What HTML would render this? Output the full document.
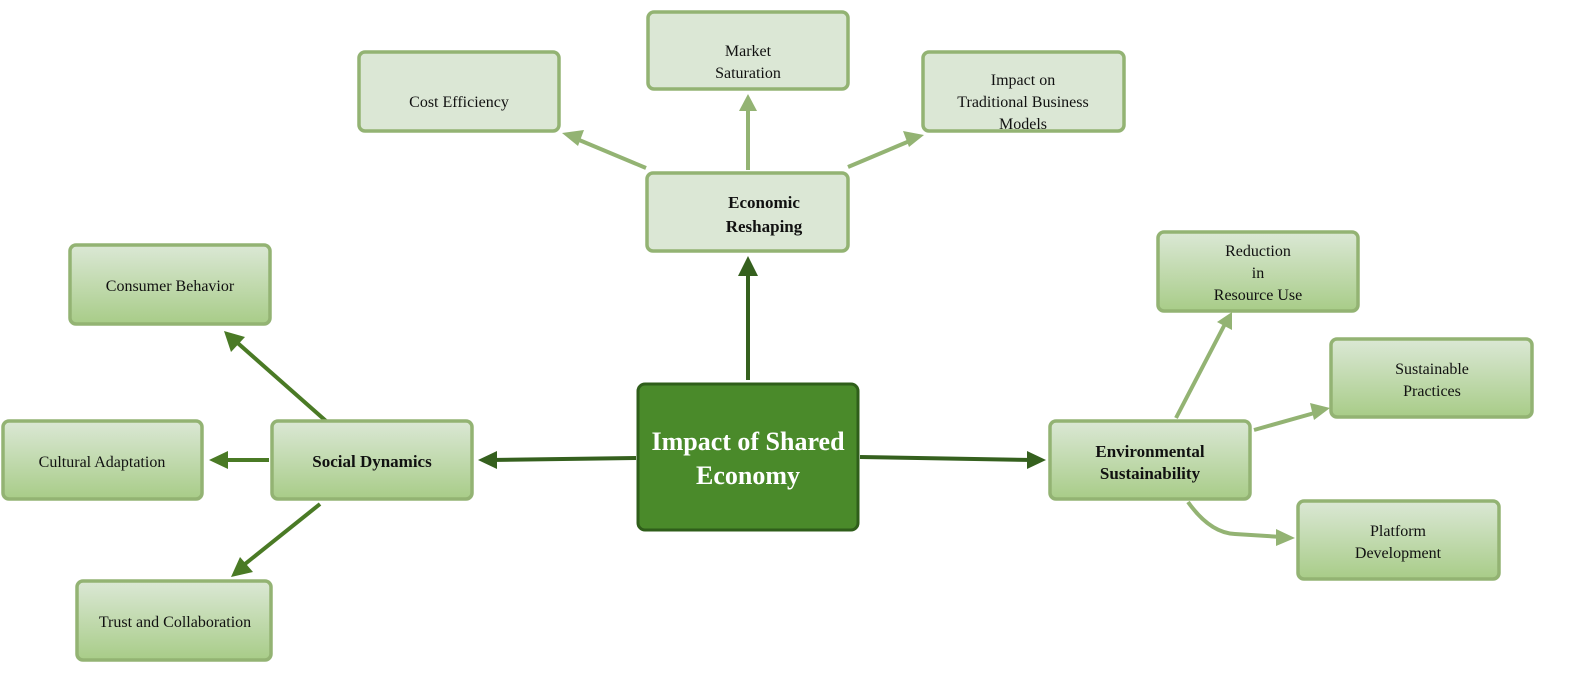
<!DOCTYPE html>
<html><head><meta charset="utf-8"><style>
html,body{margin:0;padding:0;background:#fff;}
svg{display:block;}
text{font-family:"Liberation Serif",serif;fill:#111;}
</style></head><body>
<svg width="1586" height="683" viewBox="0 0 1586 683" xmlns="http://www.w3.org/2000/svg">
<defs>
<linearGradient id="g" x1="0" y1="0" x2="0" y2="1">
<stop offset="0" stop-color="#dbe8d5"/><stop offset="1" stop-color="#a8cc88"/>
</linearGradient>
<marker id="ad" viewBox="0 0 10 10" refX="9" refY="5" markerWidth="5" markerHeight="5" orient="auto" markerUnits="userSpaceOnUse" style="overflow:visible">
</marker>
</defs>
<g stroke="#93b373" stroke-width="4" fill="none">
<line x1="646" y1="168" x2="572" y2="137"/>
<line x1="748" y1="170" x2="748" y2="104"/>
<line x1="848" y1="167" x2="912" y2="140"/>
<line x1="1176" y1="418" x2="1226" y2="322"/>
<line x1="1254" y1="430" x2="1318" y2="412"/>
<path d="M1188 502 Q1210 533 1235 534 L1282 537"/>
</g>
<g fill="#93b373">
<polygon points="562,133 584,130 578,146"/>
<polygon points="748,94 739,111 757,111"/>
<polygon points="924,135 903,131 909,147"/>
<polygon points="1232,312 1217,322 1232,330"/>
<polygon points="1330,408 1310,403 1314,420"/>
<polygon points="1295,538 1276,529 1276,546"/>
</g>
<g stroke="#35601e" stroke-width="4" fill="none">
<line x1="748" y1="380" x2="748" y2="268"/>
<line x1="636" y1="458" x2="490" y2="460"/>
<line x1="860" y1="457" x2="1034" y2="460"/>
</g>
<g fill="#35601e">
<polygon points="748,256 738,276 758,276"/>
<polygon points="478,460 497,451 497,469"/>
<polygon points="1046,460 1027,451 1027,469"/>
</g>
<g stroke="#4a7a25" stroke-width="4" fill="none">
<line x1="326" y1="421" x2="232" y2="338"/>
<line x1="269" y1="460" x2="218" y2="460"/>
<line x1="320" y1="504" x2="240" y2="568"/>
</g>
<g fill="#4a7a25">
<polygon points="224,331 231,352 245,337"/>
<polygon points="209,460 228,451 228,469"/>
<polygon points="231,577 240,557 253,572"/>
</g>
<g stroke="#93b373" stroke-width="3.5">
<rect x="359" y="52" width="200" height="79" rx="6" fill="#dbe7d5"/>
<rect x="648" y="12" width="200" height="77" rx="6" fill="#dbe7d5"/>
<rect x="923" y="52" width="201" height="79" rx="6" fill="#dbe7d5"/>
<rect x="647" y="173" width="201" height="78" rx="6" fill="#dbe7d5"/>
<rect x="70" y="245" width="200" height="79" rx="6" fill="url(#g)"/>
<rect x="3" y="421" width="199" height="78" rx="6" fill="url(#g)"/>
<rect x="272" y="421" width="200" height="78" rx="6" fill="url(#g)"/>
<rect x="77" y="581" width="194" height="79" rx="6" fill="url(#g)"/>
<rect x="1050" y="421" width="200" height="78" rx="6" fill="url(#g)"/>
<rect x="1158" y="232" width="200" height="79" rx="6" fill="url(#g)"/>
<rect x="1331" y="339" width="201" height="78" rx="6" fill="url(#g)"/>
<rect x="1298" y="501" width="201" height="78" rx="6" fill="url(#g)"/>
</g>
<rect x="638" y="384" width="220" height="146" rx="7" fill="#4a8a2a" stroke="#2f5e1a" stroke-width="3"/>
<g font-size="16" text-anchor="middle">
<text x="459" y="107">Cost Efficiency</text>
<text x="748" y="56">Market</text><text x="748" y="78">Saturation</text>
<text x="1023" y="85">Impact on</text><text x="1023" y="107">Traditional Business</text><text x="1023" y="129">Models</text>
<text x="170" y="291">Consumer Behavior</text>
<text x="102" y="467">Cultural Adaptation</text>
<text x="175" y="627">Trust and Collaboration</text>
<text x="1258" y="256">Reduction</text><text x="1258" y="278">in</text><text x="1258" y="300">Resource Use</text>
<text x="1432" y="374">Sustainable</text><text x="1432" y="396">Practices</text>
<text x="1398" y="536">Platform</text><text x="1398" y="558">Development</text>
</g>
<g font-size="17" font-weight="bold" text-anchor="middle">
<text x="764" y="208">Economic</text><text x="764" y="232">Reshaping</text>
<text x="372" y="467">Social Dynamics</text>
<text x="1150" y="457">Environmental</text><text x="1150" y="479">Sustainability</text>
</g>
<g font-size="26" font-weight="bold" text-anchor="middle">
<text x="748" y="450" style="fill:#fff">Impact of Shared</text>
<text x="748" y="484" style="fill:#fff">Economy</text>
</g>
</svg>
</body></html>
